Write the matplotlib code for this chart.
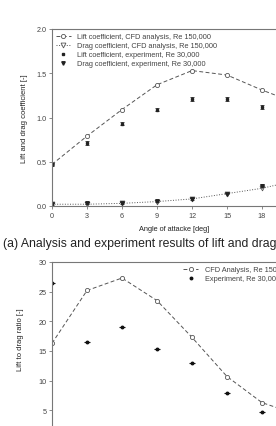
import numpy as np
import matplotlib
matplotlib.use("Agg")
from matplotlib import pyplot as plt

# angle of attack [deg]
aoa_cfd = [0, 3, 6, 9, 12, 15, 18, 21]
aoa_exp = [0, 3, 6, 9, 12, 15, 18]

# CFD, Re 150,000
cl_cfd = [0.47, 0.79, 1.09, 1.37, 1.53, 1.48, 1.31, 1.16]
cd_cfd = [0.02, 0.02, 0.03, 0.05, 0.08, 0.14, 0.20, 0.29]
ld_cfd = [16.3, 25.2, 27.3, 23.5, 17.3, 10.7, 6.3, 4.3]

# experiment, Re 30,000
cl_exp = [0.47, 0.71, 0.93, 1.09, 1.21, 1.21, 1.12]
cl_err = [0.02, 0.02, 0.02, 0.02, 0.02, 0.02, 0.02]
cd_exp = [0.02, 0.03, 0.03, 0.06, 0.08, 0.14, 0.23]
cd_err = [0.01, 0.01, 0.01, 0.01, 0.01, 0.01, 0.015]
ld_exp = [26.4, 16.5, 19.1, 15.4, 13.0, 8.0, 4.8]

xticks = [0, 3, 6, 9, 12, 15, 18]

plt.rcParams['font.family'] = ['Liberation Sans', 'DejaVu Sans']
gray = "#555555"
tcol = "#444444"
dark = "#222222"

fig = plt.figure(figsize=(2.76, 4.27), dpi=100, facecolor="w")

def style(ax):
    for s in ax.spines.values():
        s.set_color("#777777")
        s.set_linewidth(0.8)
    ax.tick_params(colors="#777777", labelcolor=tcol, labelsize=5.2,
                   length=2, width=0.6, pad=2)

# (a) lift and drag coefficient
ax = fig.add_axes([52/276, 1-207/427, 245/276, 177/427])
ax.plot(aoa_cfd, cl_cfd, "--", color=gray, lw=0.7, marker="o", ms=3,
        mfc="w", mec=gray, mew=0.6, dashes=(4, 2.5),
        label="Lift coefficient, CFD analysis, Re 150,000")
ax.plot(aoa_cfd, cd_cfd, ":", color=gray, lw=0.7, marker="v", ms=3.5,
        mfc="w", mec=gray, mew=0.6,
        label="Drag coefficient, CFD analysis, Re 150,000")
ax.errorbar(aoa_exp, cl_exp, yerr=cl_err, fmt="none", ecolor=dark,
            elinewidth=0.6, capsize=1.5, capthick=0.6)
ax.plot(aoa_exp, cl_exp, "s", color=dark, ms=2,
        label="Lift coefficient, experiment, Re 30,000")
ax.errorbar(aoa_exp, cd_exp, yerr=cd_err, fmt="none", ecolor=dark,
            elinewidth=0.6, capsize=1.5, capthick=0.6)
ax.plot(aoa_exp, cd_exp, "v", color=dark, ms=2.5,
        label="Drag coefficient, experiment, Re 30,000")
ax.set_xlim(0, 21)
ax.set_ylim(0, 2.0)
ax.set_xticks(xticks)
ax.set_yticks([0, 0.5, 1.0, 1.5, 2.0])
ax.set_yticklabels(["0.0", "0.5", "1.0", "1.5", "2.0"])
style(ax)
ax.set_xlabel("Angle of attacke [deg]", fontsize=5.3, color=dark, labelpad=5)
ax.set_ylabel("Lift and drag coefficient [-]", fontsize=5.5, color=dark, labelpad=6)
ax.legend(loc="upper left", frameon=False, fontsize=5.3, handlelength=2.0,
          borderaxespad=0.15, labelspacing=0.25, handletextpad=0.9,
          labelcolor=tcol)

fig.text(0.01, 1-244/427, "(a) Analysis and experiment results of lift and drag",
         fontsize=8.8, color=dark, va="center", ha="left")

# (b) lift to drag ratio
ax2 = fig.add_axes([52/276, 1-441/427, 245/276, 178/427])
ax2.plot(aoa_cfd, ld_cfd, "--", color=gray, lw=0.7, marker="o", ms=3,
         mfc="w", mec=gray, mew=0.6, dashes=(4, 2.5),
         label="CFD Analysis, Re 150,000")
ax2.plot(aoa_exp, ld_exp, "o", color="#111111", ms=1.8,
         label="Experiment, Re 30,000")
ax2.plot(aoa_exp, ld_exp, "_", color="#111111", ms=4, mew=0.8)
ax2.set_xlim(0, 21)
ax2.set_ylim(0, 30)
ax2.set_xticks(xticks)
ax2.set_yticks([5, 10, 15, 20, 25, 30])
style(ax2)
ax2.tick_params(axis="x", labelbottom=False)
ax2.set_ylabel("Lift to drag ratio [-]", fontsize=5.5, color=dark)
ax2.yaxis.set_label_coords(-0.115, 0.567)
ax2.legend(loc="upper left", bbox_to_anchor=(0.52, 1.0), frameon=False,
           fontsize=5.3, handlelength=2.0, borderaxespad=0.15, labelspacing=0.25,
           handletextpad=0.9, labelcolor=tcol)

plt.savefig("out.png", dpi=100)
